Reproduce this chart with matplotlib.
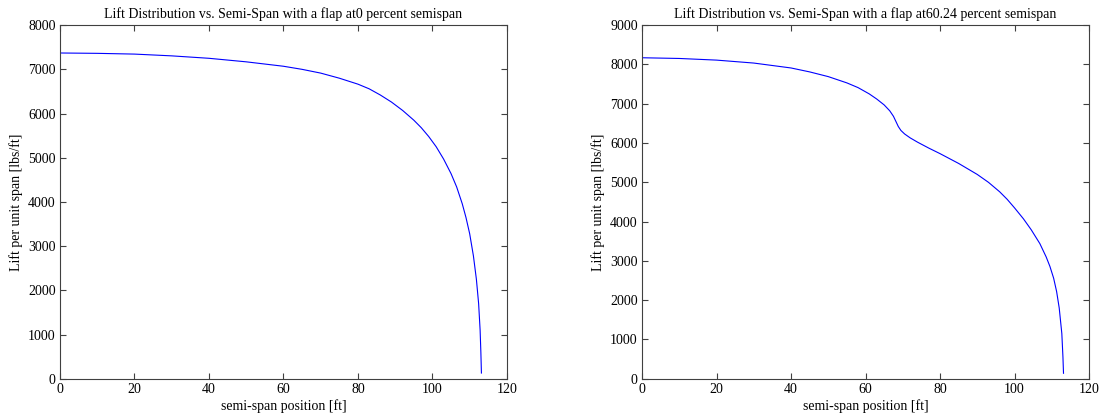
import matplotlib
matplotlib.use("Agg")
import matplotlib.pyplot as plt

flap_pcts = ["0", "60.24"]

span_a = [0, 10, 20, 30, 40, 50, 60, 65, 70, 75, 80, 83, 86, 89, 92, 95, 97,
          99, 101, 103, 105, 106.5, 108, 109, 110, 111, 111.8, 112.4, 112.8,
          113.0, 113.15]
lift_a = [7370, 7362, 7345, 7305, 7250, 7170, 7070, 7000, 6915, 6800, 6665,
          6560, 6420, 6260, 6070, 5850, 5680, 5480, 5250, 4970, 4640, 4340,
          3960, 3650, 3280, 2780, 2250, 1700, 1100, 600, 130]

span_b = [0, 10, 20, 30, 40, 45, 50, 55, 58, 61, 63, 65, 66.5, 67.5, 68.2,
          68.8, 69.5, 70.5, 72, 74, 77, 80, 85, 90, 93, 96, 98, 100, 102.4,
          104.5, 106.8, 108.5, 109.5, 110.5, 111.3, 112, 112.7, 113.0, 113.15]
lift_b = [8170, 8152, 8110, 8035, 7910, 7810, 7690, 7530, 7410, 7250, 7120,
          6970, 6820, 6680, 6540, 6420, 6320, 6230, 6130, 6020, 5870, 5730,
          5480, 5200, 5000, 4760, 4570, 4350, 4070, 3790, 3440, 3100, 2860,
          2560, 2220, 1800, 1150, 550, 140]

ylims = [8000, 9000]

plt.rcParams["font.family"] = ["Liberation Serif", "DejaVu Serif"]
plt.rcParams["font.size"] = 10

fig = plt.figure(figsize=(11.1, 4.19), dpi=100)
axes = [fig.add_axes([0.054, 0.096, 0.4027, 0.844]),
        fig.add_axes([0.5784, 0.096, 0.4027, 0.844])]

for ax, x, y, pct, ytop in zip(axes, [span_a, span_b], [lift_a, lift_b],
                               flap_pcts, ylims):
    ax.plot(x, y, color="#0000ff", lw=0.8)
    ax.set_xlim(0, 120)
    ax.set_ylim(0, ytop)
    ax.set_xticks(range(0, 121, 20))
    ax.set_yticks(range(0, ytop + 1, 1000))
    ax.tick_params(direction="in", top=True, right=True, length=4,
                   color="#404040", labelsize=10, pad=3)
    for s in ax.spines.values():
        s.set_color("#404040")
        s.set_linewidth(0.8)
    ax.set_title(f"Lift Distribution vs. Semi-Span with a flap at{pct} percent semispan",
                 fontsize=10, pad=5)
    ax.set_xlabel("semi-span position [ft]", fontsize=10, labelpad=2)
    ax.set_ylabel("Lift per unit span [lbs/ft]", fontsize=10, labelpad=4)

fig.savefig("out.png", dpi=100)
